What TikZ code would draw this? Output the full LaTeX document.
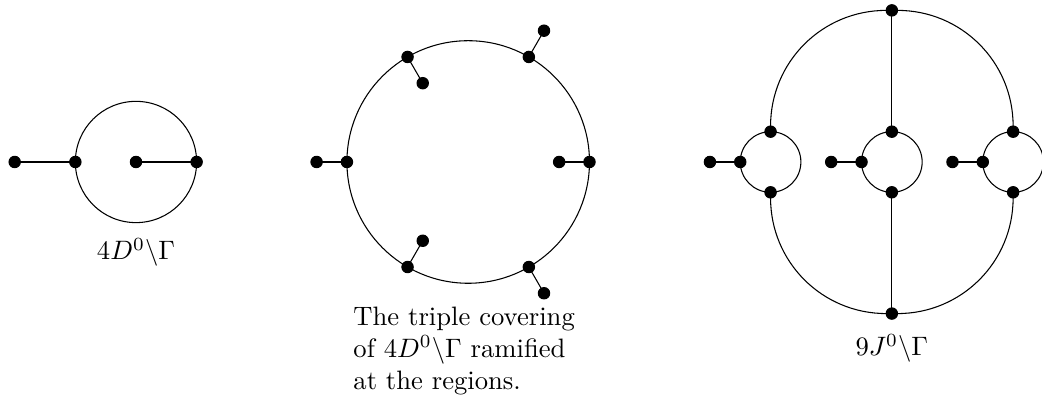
\documentclass[tikz,border=0pt]{standalone}
\usepackage{amsmath}
\usepackage{amssymb}
\usepackage{tikz}
\usetikzlibrary{positioning}
\usetikzlibrary{calc}
\usepackage{tikz-feynman}

\begin{document}
\begin{tikzpicture}[on grid]
    \useasboundingbox (-1.794,2.137) rectangle (11.953,-3.391);
    \begin{feynman}

        % 4D^0\Gamma
        \vertex [dot] (lc) {};
        \vertex [dot, right=0.8cm of lc] (lr) {};
        \vertex [dot, left=0.8cm of lc] (ll) {};
        \vertex [dot, left=0.8cm of ll] (lo) {};
        \vertex [below=1.19cm of lc] (llabel) {\ensuremath{4D^0\backslash\Gamma}};

        % triple covering
        \vertex [right=4.383cm of lc] (mc) {};
        \vertex [dot] (m0) at ($(mc)+(0:1.6)$) {};
        \vertex [dot] (m60) at ($(mc)+(60:1.6)$) {};
        \vertex [dot] (m120) at ($(mc)+(120:1.6)$) {};
        \vertex [dot] (m180) at ($(mc)+(180:1.6)$) {};
        \vertex [dot] (m240) at ($(mc)+(240:1.6)$) {};
        \vertex [dot] (m300) at ($(mc)+(300:1.6)$) {};
        \vertex [dot] (s0) at ($(mc)+(0:1.2)$) {};
        \vertex [dot] (s60) at ($(mc)+(60:2)$) {};
        \vertex [dot] (s120) at ($(mc)+(120:1.2)$) {};
        \vertex [dot] (s180) at ($(mc)+(180:2)$) {};
        \vertex [dot] (s240) at ($(mc)+(240:1.2)$) {};
        \vertex [dot] (s300) at ($(mc)+(300:2)$) {};

        % 9J^0\Gamma
        \vertex [right=5.589cm of mc] (rc) {};
        \vertex [left=1.6cm of rc] (ca) {};
        \vertex [right=1.6cm of rc] (cc) {};

        \vertex [dot, above=0.4cm of ca] (at) {};
        \vertex [dot, below=0.4cm of ca] (ab) {};
        \vertex [dot, left=0.4cm of ca] (al) {};
        \vertex [dot, left=0.8cm of ca] (ao) {};

        \vertex [dot, above=0.4cm of rc] (bt) {};
        \vertex [dot, below=0.4cm of rc] (bb) {};
        \vertex [dot, left=0.4cm of rc] (bl) {};
        \vertex [dot, left=0.8cm of rc] (bo) {};

        \vertex [dot, above=0.4cm of cc] (ct) {};
        \vertex [dot, below=0.4cm of cc] (cb) {};
        \vertex [dot, left=0.4cm of cc] (cl) {};
        \vertex [dot, left=0.8cm of cc] (co) {};

        \vertex [dot, above=2cm of rc] (top) {};
        \vertex [dot, below=2cm of rc] (bot) {};
        \vertex [below=2.46cm of rc] (rlabel) {\ensuremath{9J^0\backslash\Gamma}};

        \diagram*{

            (lo) -- [plain] (ll), (lc) -- [plain] (lr),
            (s0) -- [plain] (m0), (m60) -- [plain] (s60), (s120) -- [plain] (m120),
            (s180) -- [plain] (m180), (s240) -- [plain] (m240), (m300) -- [plain] (s300),
            (ao) -- [plain] (al), (bo) -- [plain] (bl), (co) -- [plain] (cl),
            (top) -- [plain] (bt), (bb) -- [plain] (bot),
            (at) -- [plain, out=90, in=180] (top) -- [plain, out=0, in=90] (ct),
            (ab) -- [plain, out=-90, in=180] (bot) -- [plain, out=0, in=-90] (cb),

        };

    \end{feynman}

    \draw (lc) circle (0.8cm);
    \draw (mc) circle (1.6cm);
    \draw (ca) circle (0.4cm) (rc) circle (0.4cm) (cc) circle (0.4cm);

    \node [align=left, inner sep=0pt, anchor=north west] (mtext) at ($(mc)+(-1.521,-1.904)$) {The triple covering\\ of \ensuremath{4D^0\backslash\Gamma} ramified\\ at the regions.};
\end{tikzpicture}
\end{document}
